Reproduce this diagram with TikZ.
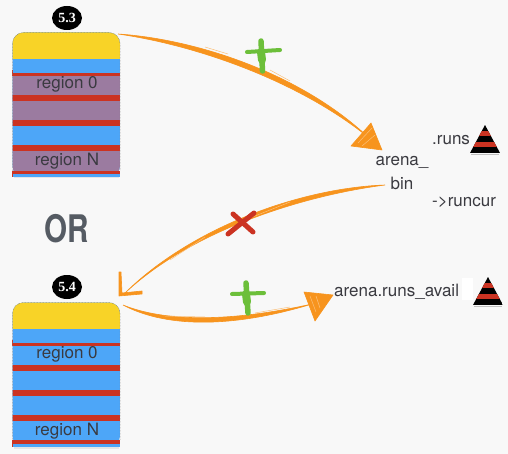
\documentclass[tikz,border=0pt]{standalone}
\usepackage{fontspec}
\setmainfont{TeX Gyre Heros}
\newfontfamily\badgefont{Liberation Serif}
\definecolor{bgc}{HTML}{F8F8F8}
\definecolor{yel}{HTML}{F8D327}
\definecolor{blu}{HTML}{4DA6F8}
\definecolor{rdb}{HTML}{CB3322}
\definecolor{pur}{HTML}{9B7BA0}
\definecolor{org}{HTML}{F7941E}
\definecolor{lorg}{HTML}{FBC07A}
\definecolor{grn}{HTML}{6CBF3A}
\definecolor{txt}{HTML}{3A3A40}
\definecolor{orc}{HTML}{555B63}
\tikzset{
  lab/.style={inner sep=0pt,font=\fontsize{17}{17}\selectfont,text=txt},
  badge/.style={ellipse,fill=black,minimum width=30pt,minimum height=24pt,inner sep=0pt,text=white,font=\badgefont\bfseries\fontsize{14}{14}\selectfont},
  brush/.style={fill=org,draw=org,line width=.6pt,line join=round},
  hair/.style={draw=lorg,line width=.5pt},
  mark green/.style={draw=grn,line width=5.5pt,line cap=round},
  mark red/.style={draw=rdb,line width=5pt,line cap=round},
  band/.style={fill=rdb},
}
\usetikzlibrary{shapes.geometric}
\newcommand{\stripetri}[3]{% apex x, apex y, name
  \fill[black!25] (#1-14,#2+29) rectangle (#1+14,#2+30);
  \begin{scope}
    \clip (#1,#2) -- (#1+15,#2+28) -- (#1-15,#2+28) -- cycle;
    \fill[black] (#1-15,#2) rectangle (#1+15,#2+28);
    \fill[rdb] (#1-15,#2+6) rectangle (#1+15,#2+11);
    \fill[rdb] (#1-15,#2+17) rectangle (#1+15,#2+22);
  \end{scope}
  \coordinate (#3) at (#1,#2);
}
\begin{document}
\begin{tikzpicture}[x=1pt,y=-1pt]
\useasboundingbox (0,0) rectangle (508,454);
\fill[bgc] (0,0) rectangle (508,454);

% ---------- box 5.3
\fill[black!10] (14,40) rectangle (119,178.5);
\begin{scope}
  \clip[rounded corners=11pt] (12.5,32.5) rectangle (120,177);
  \fill[blu] (12,32) rectangle (120,177);
  \fill[yel] (12,32) rectangle (120,59);
  \fill[pur] (12,76) rectangle (120,120);
  \fill[pur] (12,151) rectangle (120,171);
  \fill[band] (12,73) rectangle (120,76);
  \fill[band] (12,95) rectangle (120,101);
  \fill[band] (12,120) rectangle (120,126);
  \fill[band] (12,145) rectangle (120,151);
\end{scope}
\fill[band] (12,70) rectangle (13,76);
\fill[band] (12,171) rectangle (120,174);
\fill[blu] (13,174) rectangle (120,177);
\fill[band] (12,174) rectangle (13,177);
\draw[black!50,line width=.5pt,densely dotted,rounded corners=11pt] (12.5,171) -- (12.5,32.5) -- (120,32.5) -- (120,171);
\node[lab] (r0a) at (67,84) {region 0};
\node[lab] (rna) at (67,161) {region N};
\node[badge] (b53) at (67,18) {5.3};

% ---------- OR
\node[inner sep=0pt,font=\bfseries\fontsize{38}{38}\selectfont,text=orc,xscale=.78] (or) at (67,229) {OR};

% ---------- box 5.4
\fill[black!10] (14,310) rectangle (119,448.5);
\begin{scope}
  \clip[rounded corners=11pt] (12.5,302.5) rectangle (120,447);
  \fill[blu] (12,302) rectangle (120,447);
  \fill[yel] (12,302) rectangle (120,329);
  \fill[band] (12,343) rectangle (120,346);
  \fill[band] (12,365) rectangle (120,371);
  \fill[band] (12,390) rectangle (120,396);
  \fill[band] (12,415) rectangle (120,421);
\end{scope}
\fill[band] (12,340) rectangle (13,346);
\fill[band] (12,440) rectangle (120,444);
\fill[blu] (13,444) rectangle (120,447);
\fill[band] (12,444) rectangle (13,447);
\draw[black!50,line width=.5pt,densely dotted,rounded corners=11pt] (12.5,440) -- (12.5,302.5) -- (120,302.5) -- (120,440);
\node[lab] (r0b) at (67,354) {region 0};
\node[lab] (rnb) at (67,431) {region N};
\node[badge] (b54) at (67,287) {5.4};

% ---------- labels on the right
\node[lab] (bin1) at (402,162) {arena\_};
\node[lab] (bin2) at (402,183) {bin};
\node[lab,anchor=west] (runs) at (432,140) {.runs};
\node[lab,anchor=west] (runcur) at (432,202) {->runcur};
\node[lab,anchor=west] (avail) at (334,292) {arena.runs\_avail};
\fill[white] (462,278) rectangle (473,300);
\stripetri{485}{125}{t1}
\stripetri{488}{277}{t2}

% ---------- named ends of the connectors
\coordinate (as) at (118,34);   \coordinate (ae) at (368,137);
\coordinate (ac) at (195,39);   \coordinate (ad) at (300,73);
\coordinate (bs) at (385,185);  \coordinate (be) at (124,294);
\coordinate (bc) at (300,188);  \coordinate (bd) at (190,228);
\coordinate (cs) at (123,305);  \coordinate (ce) at (312,304);
\coordinate (cc) at (170,324);  \coordinate (cd) at (240,320);

% connector 1
\path[brush] (as) .. controls (ac) and (ad) .. (ae) .. controls ([yshift=-7pt,xshift=-3pt]ad) and ([yshift=-6pt]ac) .. (as);
\draw[hair] (205,47) -- (228,54) (270,70) -- (290,81);
\path[brush] (371,123) -- (351,146) -- (382,150) -- cycle;
\draw[lorg,line width=.5pt] (358,143) -- (372,128) (362,146) -- (375,135);
% connector 2
\path[brush] (bs) .. controls (bc) and (bd) .. (be) .. controls ([yshift=-4pt,xshift=-1pt]bd) and ([yshift=-8pt]bc) .. (bs);
\draw[hair] (290,202) -- (250,218) (205,237) -- (170,260);
\path[brush] (121,272) -- (122,293) -- (142,291) -- (142,294) -- (119,296) -- (119,272) -- cycle;
% connector 3
\path[brush] (cs) .. controls (cc) and (cd) .. (ce) .. controls ([yshift=-6pt]cd) and ([yshift=-6pt]cc) .. (cs);
\draw[hair] (165,316) -- (205,317) (255,313) -- (290,307);
\path[brush] (304,292) -- (333,295) -- (315,321) -- cycle;
\draw[lorg,line width=.5pt] (310,296) -- (316,312) (316,296) -- (320,308);

% ---------- marks
\draw[mark green] (261,41) -- (262.5,71);
\draw[mark green,line width=4pt] (247,52) -- (280,50);
\draw[mark green,line width=8pt] (261,52) -- (262,60);
\draw[mark green] (246,283) -- (248,313);
\draw[mark green,line width=4pt] (232,294) -- (264,293);
\draw[mark green,line width=8pt] (246,294) -- (247,302);
\draw[mark red] (233,214) -- (253,232);
\draw[mark red] (254,213) -- (228,234);
\end{tikzpicture}
\end{document}
